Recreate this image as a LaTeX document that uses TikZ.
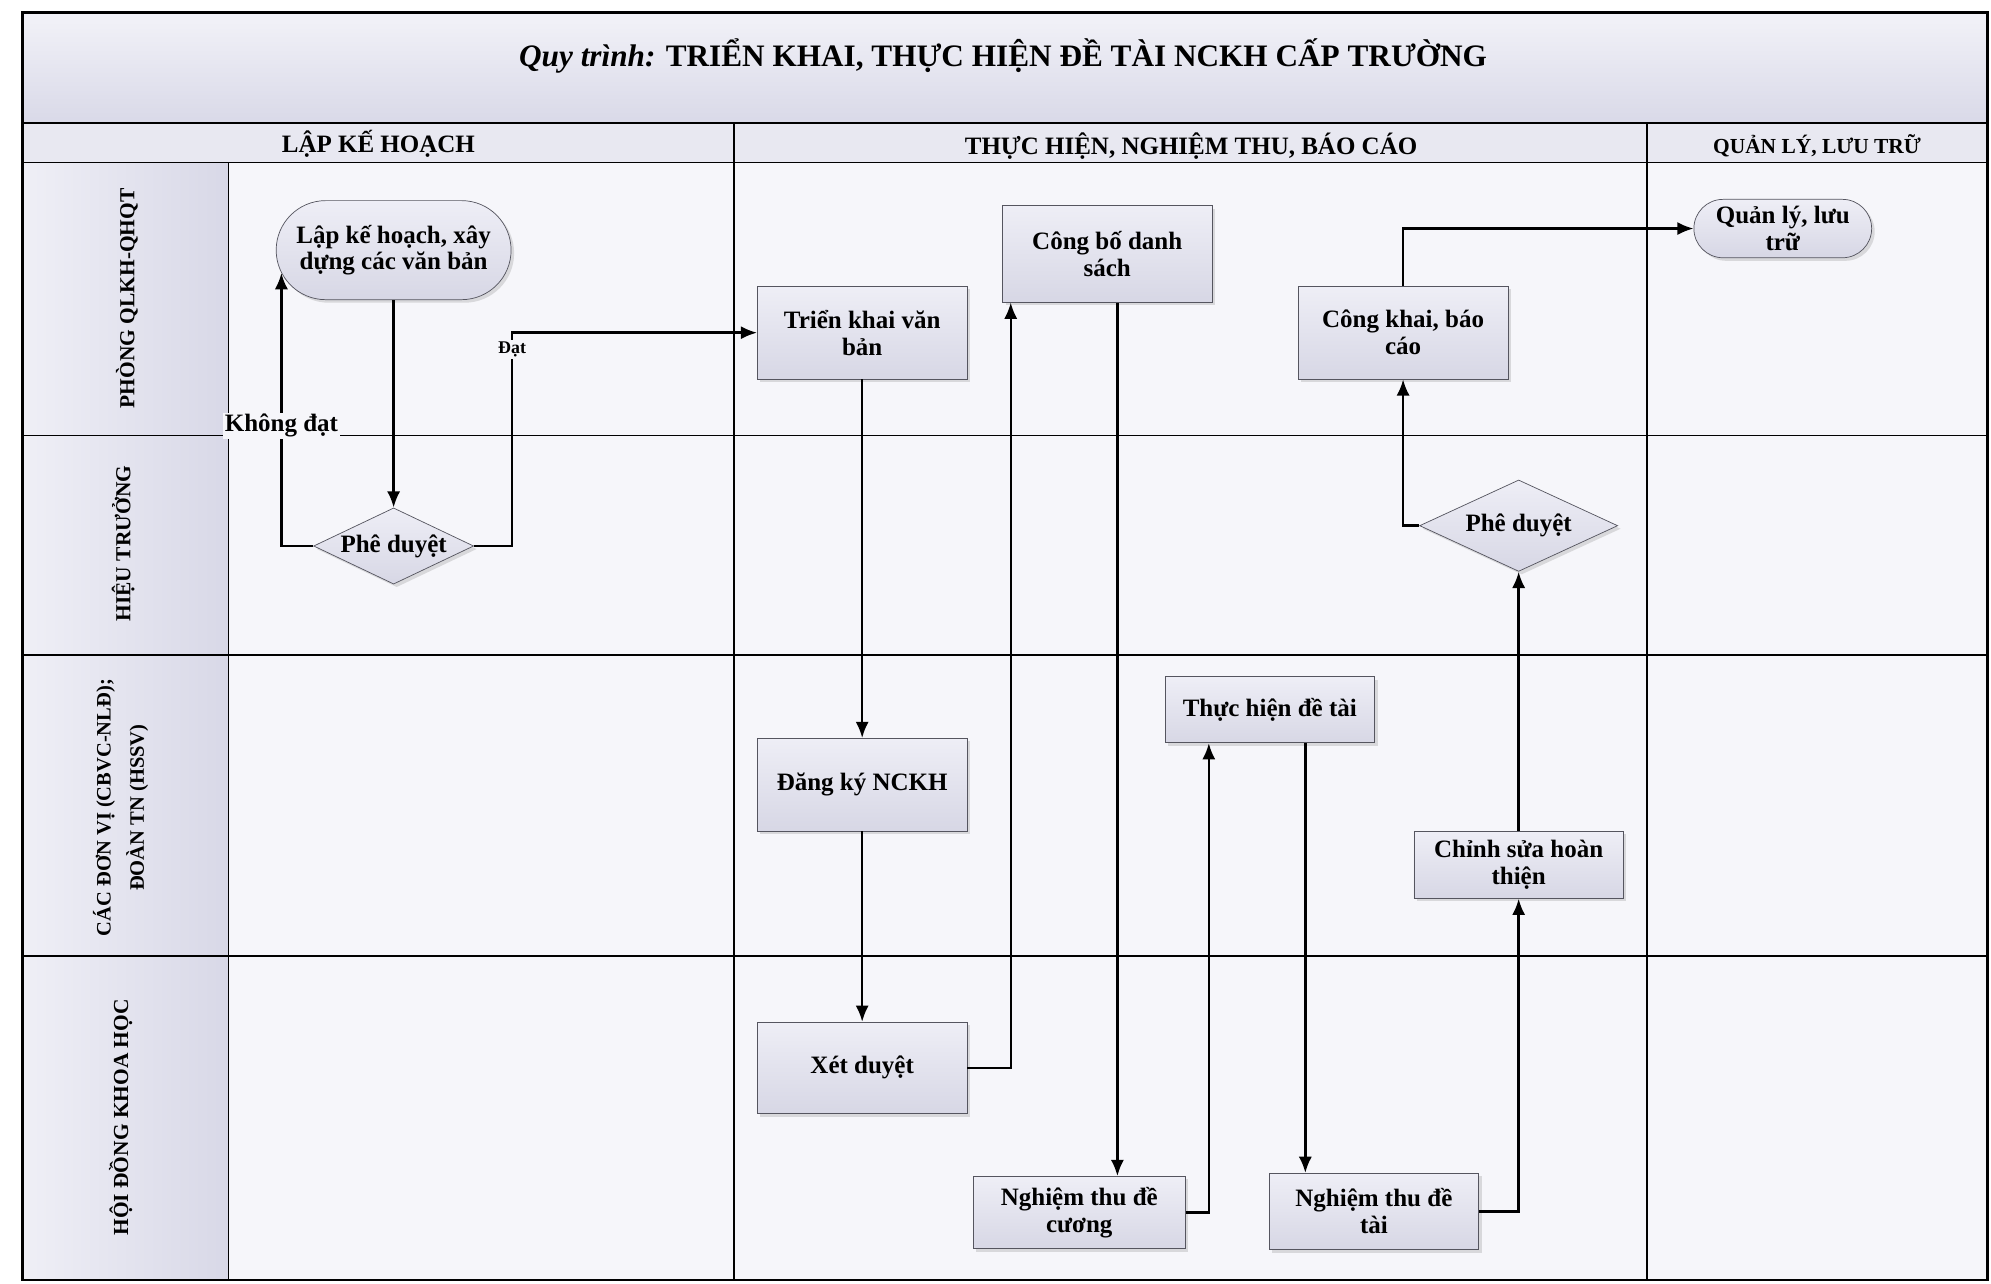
\documentclass[tikz,border=0pt]{standalone}
\usepackage{fontspec}
\setmainfont{Liberation Serif}
\usetikzlibrary{arrows.meta,shapes.geometric,shadows}
\definecolor{cellbg}{HTML}{F6F6FA}
\definecolor{bandtop}{HTML}{F2F2F8}
\definecolor{bandbot}{HTML}{D9D9E8}
\definecolor{headbg}{HTML}{E8E8F1}
\definecolor{lanel}{HTML}{EFEFF6}
\definecolor{laner}{HTML}{D8D8E7}
\definecolor{boxtop}{HTML}{EEEEF6}
\definecolor{boxbot}{HTML}{D7D7E5}
\definecolor{rim}{HTML}{55555F}

\begin{document}
\begin{tikzpicture}[
  x=0.25mm, y=-0.25mm,
  box/.style={draw=rim, top color=boxtop, bottom color=boxbot, align=center, minimum width=41.25mm, minimum height=18.25mm, inner sep=1pt, font=\bfseries\fontsize{14}{15}\selectfont, drop shadow={opacity=0.25, shadow xshift=0.6mm, shadow yshift=-0.6mm}},
  pill/.style={box, rounded corners=9.75mm},
  decide/.style={box, diamond, inner sep=0pt, aspect=2.1},
  lane/.style={rotate=90, align=center, font=\bfseries\fontsize{12}{18.5}\selectfont},
  head/.style={font=\bfseries\fontsize{14}{16}\selectfont},
  grid/.style={line width=1pt},
  arrow/.style={-{Latex[length=3.2mm, width=2.6mm]}, line width=1.35pt},
  tag/.style={fill=cellbg, inner sep=1pt, font=\bfseries\fontsize{14}{15}\selectfont}
]
\useasboundingbox (0,0) rectangle (1568,1011);
\fill[cellbg] (18,10) rectangle (1565,1008);
\shade[top color=bandtop, bottom color=bandbot] (18,10) rectangle (1565,97);
\fill[headbg] (18,97) rectangle (1565,128);
\shade[left color=lanel, right color=laner] (18,128) rectangle (180,1008);
\draw[grid] (18,97) -- (1565,97) (18,128) -- (1565,128)
  (18,343) -- (1565,343) (18,516) -- (1565,516) (18,753) -- (1565,753)
  (180,128) -- (180,1008) (578,97) -- (578,1008) (1297,97) -- (1297,1008);
\draw[line width=1.6pt] (18,10) rectangle (1565,1008);

\node[font=\bfseries\fontsize{17.5}{20}\selectfont] (title) at (790,44) {\textit{Quy trình:} TRIỂN KHAI, THỰC HIỆN ĐỀ TÀI NCKH CẤP TRƯỜNG};
\node[head] (hplan) at (298,113) {LẬP KẾ HOẠCH};
\node[head] (hexec) at (938,115) {THỰC HIỆN, NGHIỆM THU, BÁO CÁO};
\node[head, font=\bfseries\fontsize{12}{14}\selectfont] (hstore) at (1431,115) {QUẢN LÝ, LƯU TRỮ};
\node[lane] (lqlkh) at (100,235) {PHÒNG QLKH-QHQT};
\node[lane] (lht) at (97,428) {HIỆU TRƯỞNG};
\node[lane, font=\bfseries\fontsize{11.5}{18.5}\selectfont] (ldv) at (95,636) {CÁC ĐƠN VỊ (CBVC-NLĐ);\\ĐOÀN TN (HSSV)};
\node[lane] (lhd) at (95,880) {HỘI ĐỒNG KHOA HỌC};

\node[pill, minimum width=46.25mm, minimum height=19.5mm] (plan) at (310,197) {Lập kế hoạch, xây\\dựng các văn bản};
\node[decide, minimum width=31.5mm, minimum height=15mm] (ok1) at (310,430) {Phê duyệt};
\node[box] (trienkhai) at (679,262) {Triển khai văn\\bản};
\node[box, minimum height=19mm] (congbo) at (872,200) {Công bố danh\\sách};
\node[box] (dangky) at (679,618) {Đăng ký NCKH};
\node[box, minimum height=18mm] (xetduyet) at (679,841) {Xét duyệt};
\node[box, minimum width=41.75mm, minimum height=14.25mm] (ntdc) at (850,955) {Nghiệm thu đề\\cương};
\node[box, minimum height=13mm] (thuchien) at (1000,559) {Thực hiện đề tài};
\node[box, minimum height=15mm] (ntdt) at (1082,954) {Nghiệm thu đề\\tài};
\node[box, minimum height=13.25mm] (chinhsua) at (1196,681) {Chỉnh sửa hoàn\\thiện};
\node[decide, minimum width=39mm, minimum height=18mm, aspect=2.17] (ok2) at (1196,414) {Phê duyệt};
\node[box] (congkhai) at (1105,262) {Công khai, báo\\cáo};
\node[pill, minimum width=35mm, minimum height=11.5mm, rounded corners=5.75mm] (luutru) at (1404,180) {Quản lý, lưu\\trữ};

\draw[arrow] (plan) -- (ok1);
\draw[arrow] (ok1.west) -| node[tag, pos=0.72] {Không đạt} ([xshift=1.1mm, yshift=-4.5mm]plan.west);
\draw[arrow] (ok1.east) -- ++(7.5mm,0) |- node[tag, pos=0.46, font=\bfseries\fontsize{10}{12}\selectfont] {Đạt} (trienkhai.west);
\draw[arrow] (trienkhai) -- (dangky);
\draw[arrow] (dangky) -- (xetduyet);
\draw[arrow] (xetduyet.east) -| ([xshift=-19mm]congbo.south);
\draw[arrow] ([xshift=2mm]congbo.south) -- ([xshift=2mm]congbo.south |- ntdc.north);
\draw[arrow] (ntdc.east) -| ([xshift=-12mm]thuchien.south);
\draw[arrow] ([xshift=7mm]thuchien.south) -- ([xshift=7mm]thuchien.south |- ntdt.north);
\draw[arrow] (ntdt.east) -| (chinhsua.south);
\draw[arrow] (chinhsua) -- (ok2);
\draw[arrow] (ok2.west) -| (congkhai.south);
\draw[arrow] (congkhai.north) |- (luutru.west);
\end{tikzpicture}
\end{document}
